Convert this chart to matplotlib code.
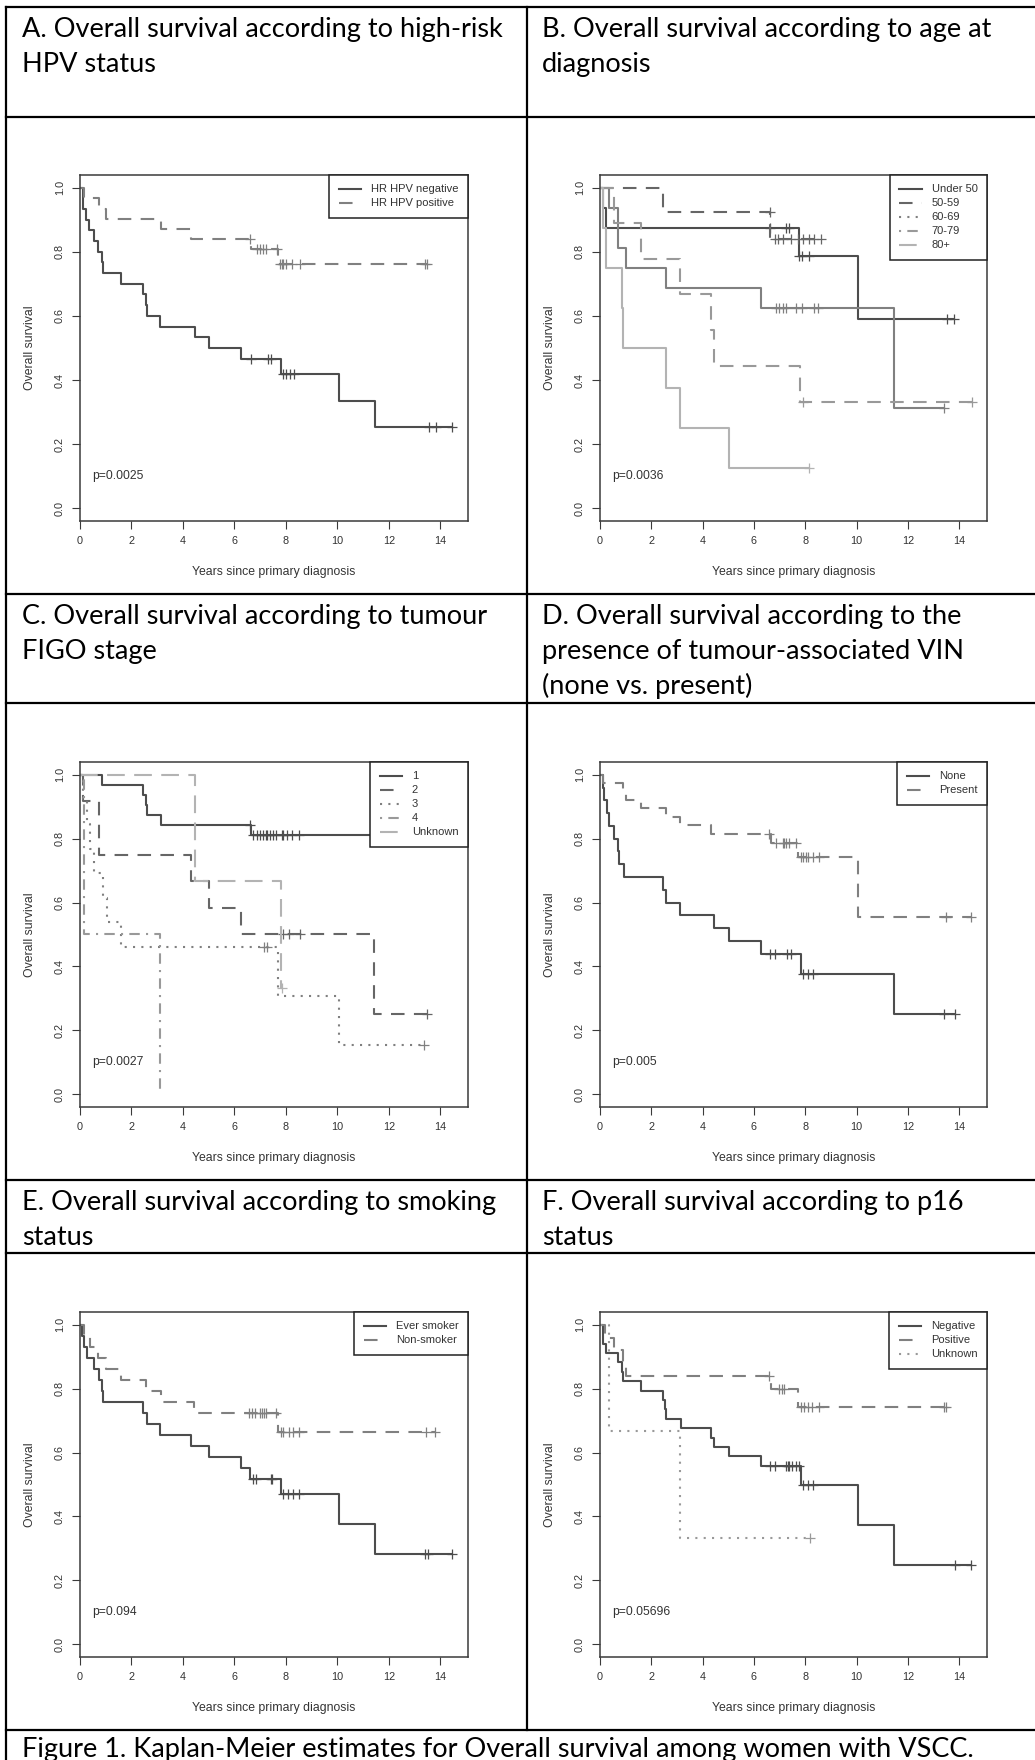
import numpy as np
import matplotlib
matplotlib.use("Agg")
import matplotlib.pyplot as plt
from matplotlib.lines import Line2D

plt.rcParams['font.family'] = ['Liberation Sans', 'DejaVu Sans']

W, H, DPI = 1035, 1760, 100

# ---------------- data ----------------
# each curve: event times, survival after each event, censoring times

# A. high-risk HPV status
a_neg_t = [0.13, 0.22, 0.35, 0.54, 0.71, 0.84, 0.9, 1.59, 2.46, 2.55, 2.59, 3.1, 4.46, 5.0, 6.27, 7.83, 10.07, 11.45]
a_neg_s = [0.933, 0.9, 0.867, 0.833, 0.8, 0.767, 0.733, 0.7, 0.667, 0.633, 0.6, 0.567, 0.533, 0.5, 0.467, 0.42, 0.336, 0.252]
a_neg_c = [6.64, 7.31, 7.41, 7.9, 8.02, 8.18, 8.31, 13.56, 13.82, 14.47]
a_pos_t = [0.17, 0.75, 1.01, 3.14, 4.3, 6.65, 7.7]
a_pos_s = [0.968, 0.935, 0.903, 0.871, 0.839, 0.81, 0.763]
a_pos_c = [6.6, 6.86, 6.99, 7.12, 7.21, 7.67, 7.76, 7.85, 7.89, 8.02, 8.25, 8.54, 13.39, 13.48]

# B. age at diagnosis
b_u50_t = [0.1, 0.23, 7.74, 10.06]
b_u50_s = [0.9375, 0.875, 0.7875, 0.59]
b_u50_c = [6.62, 7.24, 7.37, 7.76, 7.87, 8.15, 13.52, 13.78]
b_5059_t = [2.46, 6.64]
b_5059_s = [0.923, 0.839]
b_5059_c = [6.62, 6.8, 6.95, 7.15, 7.45, 7.7, 7.9, 8.15, 8.35, 8.6]
b_6069_t = [0.36, 0.71, 1.01, 2.59, 6.27, 11.45]
b_6069_s = [0.9375, 0.8125, 0.75, 0.6875, 0.625, 0.3125]
b_6069_c = [6.86, 6.99, 7.12, 7.25, 7.63, 7.89, 8.34, 8.51, 13.39]
b_7079_t = [0.54, 1.58, 3.13, 4.31, 4.44, 7.79]
b_7079_s = [0.889, 0.778, 0.667, 0.556, 0.444, 0.333]
b_7079_c = [7.92, 14.49]
b_80_t = [0.13, 0.23, 0.87, 0.9, 2.59, 3.1, 5.02]
b_80_s = [0.875, 0.75, 0.625, 0.5, 0.375, 0.25, 0.125]
b_80_c = [8.15]

# C. FIGO stage
c_1_t = [0.84, 2.46, 2.56, 2.61, 3.15, 6.65]
c_1_s = [0.969, 0.938, 0.906, 0.875, 0.844, 0.8125]
c_1_c = [6.6, 6.73, 6.86, 6.99, 7.12, 7.21, 7.27, 7.4, 7.5, 7.63, 7.85, 7.89, 8.06, 8.25, 8.51, 13.5]
c_2_t = [0.12, 0.74, 0.75, 4.3, 5.01, 6.27, 11.42]
c_2_s = [0.917, 0.833, 0.75, 0.667, 0.583, 0.5, 0.25]
c_2_c = [7.89, 8.13, 8.54, 13.48]
c_3_t = [0.13, 0.26, 0.39, 0.54, 0.9, 1.06, 1.59, 7.7, 10.07]
c_3_s = [0.923, 0.846, 0.769, 0.692, 0.615, 0.538, 0.462, 0.308, 0.154]
c_3_c = [7.15, 7.25, 13.37]
c_4_t = [0.15, 3.1]
c_4_s = [0.5, 0.0]
c_4_c = []
c_unk_t = [4.46, 7.8]
c_unk_s = [0.667, 0.333]
c_unk_c = [7.86]

# D. tumour-associated VIN
d_none_t = [0.13, 0.17, 0.26, 0.35, 0.56, 0.71, 0.75, 0.94, 2.46, 2.59, 3.13, 4.46, 5.02, 6.27, 7.83, 11.45]
d_none_s = [0.96, 0.92, 0.88, 0.84, 0.8, 0.76, 0.72, 0.68, 0.64, 0.6, 0.56, 0.52, 0.48, 0.44, 0.377, 0.251]
d_none_c = [6.64, 6.83, 7.27, 7.44, 7.92, 8.12, 8.31, 13.39, 13.82]
d_pres_t = [0.1, 0.88, 1.01, 1.59, 2.56, 3.13, 4.31, 6.65, 7.7, 10.07]
d_pres_s = [0.974, 0.947, 0.921, 0.895, 0.868, 0.842, 0.816, 0.786, 0.742, 0.556]
d_pres_c = [6.6, 6.86, 7.12, 7.18, 7.24, 7.37, 7.63, 7.83, 7.92, 8.02, 8.12, 8.31, 8.54, 13.48, 14.45]

# E. smoking status
e_ever_t = [0.09, 0.17, 0.26, 0.54, 0.74, 0.84, 0.9, 2.46, 2.59, 3.1, 4.3, 5.0, 6.27, 6.6, 7.8, 10.05, 11.45]
e_ever_s = [0.966, 0.931, 0.897, 0.862, 0.828, 0.793, 0.759, 0.724, 0.69, 0.655, 0.621, 0.586, 0.552, 0.517, 0.47, 0.376, 0.282]
e_ever_c = [6.72, 6.85, 7.42, 7.45, 7.89, 8.09, 8.28, 8.51, 13.39, 13.52, 14.46]
e_non_t = [0.17, 0.39, 0.71, 1.01, 1.59, 2.56, 3.14, 4.44, 7.7]
e_non_s = [0.966, 0.931, 0.897, 0.862, 0.828, 0.793, 0.759, 0.724, 0.664]
e_non_c = [6.56, 6.7, 6.82, 6.99, 7.08, 7.17, 7.24, 7.63, 7.83, 7.9, 8.12, 8.28, 8.51, 13.45, 13.8]

# F. p16 status
f_neg_t = [0.13, 0.23, 0.71, 0.84, 0.9, 1.59, 2.46, 2.54, 2.59, 3.17, 4.31, 4.44, 5.02, 6.27, 7.83, 10.07, 11.45]
f_neg_s = [0.941, 0.912, 0.882, 0.853, 0.824, 0.794, 0.765, 0.735, 0.706, 0.676, 0.647, 0.618, 0.588, 0.559, 0.497, 0.373, 0.249]
f_neg_c = [6.64, 6.83, 7.25, 7.31, 7.38, 7.5, 7.63, 7.74, 7.92, 8.12, 8.31, 13.82, 14.45]
f_pos_t = [0.19, 0.54, 0.9, 1.01, 6.65, 7.7]
f_pos_s = [0.96, 0.92, 0.88, 0.84, 0.8, 0.743]
f_pos_c = [6.6, 6.99, 7.08, 7.18, 7.83, 7.96, 8.12, 8.28, 8.54, 13.39, 13.48]
f_unk_t = [0.36, 3.1]
f_unk_s = [0.667, 0.333]
f_unk_c = [8.19]

p_values = ['p=0.0025', 'p=0.0036', 'p=0.0027', 'p=0.005', 'p=0.094', 'p=0.05696']

headers = [
    ['A. Overall survival according to high-risk', 'HPV status'],
    ['B. Overall survival according to age at', 'diagnosis'],
    ['C. Overall survival according to tumour', 'FIGO stage'],
    ['D. Overall survival according to the', 'presence of tumour-associated VIN', '(none vs. present)'],
    ['E. Overall survival according to smoking', 'status'],
    ['F. Overall survival according to p16', 'status'],
]
caption = 'Figure 1. Kaplan-Meier estimates for Overall survival among women with VSCC.'

# ---------------- styles ----------------
SOLID = '-'
DASHED = (0, (6.5, 4.5))
DOTTED = (0, (1, 3))
DOTDASH = (0, (1, 3, 5, 3))
LONGDASH = (0, (8.5, 4.5))
G1, G2, G3, G4, G5 = '#4d4d4d', '#666666', '#808080', '#999999', '#b3b3b3'
AXC = '#3a3a3a'
TXT = '#333333'

# label, curve data, colour, curve style, legend style
panels = [
    [('HR HPV negative', a_neg_t, a_neg_s, a_neg_c, G1, SOLID, SOLID),
     ('HR HPV positive', a_pos_t, a_pos_s, a_pos_c, G3, DASHED, DASHED)],
    [('Under 50', b_u50_t, b_u50_s, b_u50_c, G1, SOLID, SOLID),
     ('50-59', b_5059_t, b_5059_s, b_5059_c, G2, DASHED, DASHED),
     ('60-69', b_6069_t, b_6069_s, b_6069_c, G3, SOLID, DOTTED),
     ('70-79', b_7079_t, b_7079_s, b_7079_c, G4, DASHED, DOTDASH),
     ('80+', b_80_t, b_80_s, b_80_c, G5, SOLID, LONGDASH)],
    [('1', c_1_t, c_1_s, c_1_c, G1, SOLID, SOLID),
     ('2', c_2_t, c_2_s, c_2_c, G2, DASHED, DASHED),
     ('3', c_3_t, c_3_s, c_3_c, G3, DOTTED, DOTTED),
     ('4', c_4_t, c_4_s, c_4_c, G4, DOTDASH, DOTDASH),
     ('Unknown', c_unk_t, c_unk_s, c_unk_c, G5, LONGDASH, LONGDASH)],
    [('None', d_none_t, d_none_s, d_none_c, G1, SOLID, SOLID),
     ('Present', d_pres_t, d_pres_s, d_pres_c, G3, DASHED, DASHED)],
    [('Ever smoker', e_ever_t, e_ever_s, e_ever_c, G1, SOLID, SOLID),
     ('Non-smoker', e_non_t, e_non_s, e_non_c, G3, DASHED, DASHED)],
    [('Negative', f_neg_t, f_neg_s, f_neg_c, G1, SOLID, SOLID),
     ('Positive', f_pos_t, f_pos_s, f_pos_c, G3, DASHED, DASHED),
     ('Unknown', f_unk_t, f_unk_s, f_unk_c, G4, DOTTED, DOTTED)],
]

# pixel layout (top-left origin)
col_x = [(80, 468), (600, 987)]
row_y = [(175, 521), (762, 1107), (1312, 1657)]
row_lines = [7, 117, 594, 703, 1180, 1253, 1730]
header_top = [7, 594, 1180]
text_x = [22, 542]
HEAD_FS = 19.5

fig = plt.figure(figsize=(W / DPI, H / DPI), dpi=DPI)


def to_fig(x, y):
    return x / W, 1 - y / H


def km_panel(ax, groups, pval):
    handles = []
    for label, t, s, c, color, ls, leg_ls in groups:
        end = max(c) if c else t[-1]
        x = np.r_[0, t, end]
        y = np.r_[1, s, s[-1]]
        ax.step(x, y, where='post', color=color, ls=ls, lw=1.5)
        if c:
            idx = np.searchsorted(t, c, side='right')
            ax.plot(c, np.r_[1, s][idx], '+', color=color, ms=6.5, mew=0.9, ls='none')
        handles.append(Line2D([], [], color=color, ls=leg_ls, lw=1.5))
    leg = ax.legend(handles, [g[0] for g in groups], loc='upper right', borderaxespad=0,
                    fancybox=False, framealpha=1, edgecolor='#222222', fontsize=8,
                    handlelength=2.0, handletextpad=0.9, borderpad=0.85, labelspacing=0.36)
    leg.get_frame().set_linewidth(1.1)
    for txt in leg.get_texts():
        txt.set_color(TXT)

    ax.set_xlim(0, 15.08)
    ax.set_ylim(-0.04, 1.04)
    ax.set_xticks(range(0, 15, 2))
    yt = np.arange(0, 1.01, 0.2)
    ax.set_yticks(yt)
    ax.set_yticklabels([f'{v:.1f}' for v in yt], rotation=90, va='center')
    ax.tick_params(length=5.8, width=0.8, color=AXC, labelcolor=TXT, labelsize=7.8, pad=5)
    for sp in ax.spines.values():
        sp.set_color(AXC)
        sp.set_linewidth(1.1)
    ax.text(0.47, 0.1, pval, fontsize=8.7, color=TXT, va='center')
    ax.set_xlabel('Years since primary diagnosis', fontsize=8.8, color=TXT)
    ax.set_ylabel('Overall survival', fontsize=8.8, color=TXT)


for i, groups in enumerate(panels):
    r, col = divmod(i, 2)
    x0, x1 = col_x[col]
    y0, y1 = row_y[r]
    ax = fig.add_axes([x0 / W, 1 - y1 / H, (x1 - x0) / W, (y1 - y0) / H])
    km_panel(ax, groups, p_values[i])
    ax.xaxis.set_label_coords(0.5, -51 / (y1 - y0))
    ax.xaxis.label.set_va('center')
    ax.yaxis.set_label_coords(-50 / (x1 - x0), 0.5)
    ax.yaxis.label.set_va('center')

    for k, line in enumerate(headers[i]):
        fx, fy = to_fig(text_x[col], header_top[r] + 30 + 35 * k)
        fig.text(fx, fy, line, fontfamily='Lato', fontsize=HEAD_FS, va='baseline', color='black')

fx, fy = to_fig(22, 1757)
fig.text(fx, fy, caption, fontfamily='Lato', fontsize=HEAD_FS, va='baseline', color='black')

# table grid
for y in row_lines:
    (a, b), (c, d) = to_fig(6, y), to_fig(W, y)
    fig.add_artist(Line2D([a, c], [b, d], transform=fig.transFigure, color='black', lw=1.6))
for x, ya, yb in [(6, 7, H), (527, 7, 1730)]:
    (a, b), (c, d) = to_fig(x, ya), to_fig(x, yb)
    fig.add_artist(Line2D([a, c], [b, d], transform=fig.transFigure, color='black', lw=1.6))

fig.savefig('out.png', dpi=DPI, facecolor='white')
